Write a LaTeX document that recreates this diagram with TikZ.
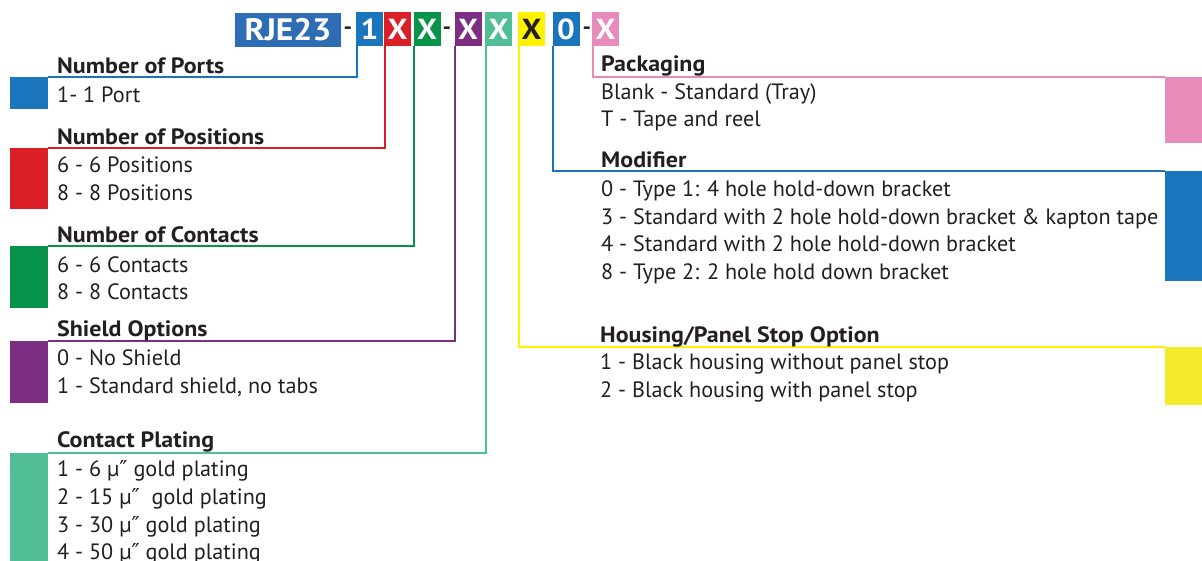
\documentclass[tikz,border=0pt]{standalone}
\usepackage{fontspec}
\setmainfont{PT Sans}[BoldFeatures={FakeStretch=1.08}]
\newfontfamily\symf{DejaVu Sans}
\newcommand{\dprime}{{\symf\fontsize{22}{24}\selectfont ″}}
\definecolor{tc}{HTML}{231F20}
\definecolor{cbrand}{HTML}{2E6DB4}
\definecolor{cblue}{HTML}{1B75BC}
\definecolor{cred}{HTML}{DA1F26}
\definecolor{cgreen}{HTML}{07934A}
\definecolor{cpurple}{HTML}{7B2E82}
\definecolor{cteal}{HTML}{52BE95}
\definecolor{cyellow}{HTML}{FFF200}
\definecolor{cyelsq}{HTML}{F6EB2A}
\definecolor{cpink}{HTML}{E68BBA}
\begin{document}
\begin{tikzpicture}[x=1pt,y=-1pt,
  txt/.style={anchor=base west,inner sep=0pt,font=\fontsize{22.2}{24}\selectfont,text=tc},
  head/.style={anchor=base west,inner sep=0pt,font=\fontsize{22.2}{24}\selectfont\bfseries,text=tc},
  hbox/.style={minimum width=27pt,minimum height=34pt,inner sep=0pt,font=\fontsize{29}{30}\selectfont\bfseries,text=white},
  dashtxt/.style={inner sep=0pt,font=\fontsize{22}{24}\selectfont\bfseries,text=tc},
  sq/.style={inner sep=0pt,minimum width=38pt,anchor=north west},
  conn/.style={line width=2pt}]
\useasboundingbox (0,0) rectangle (1202,561);
% header
\node[hbox,fill=cbrand,minimum width=106pt,font=\fontsize{31}{32}\selectfont\bfseries] (brand) at (288,30) {RJE23};
\node[dashtxt] (d1) at (348,31) {-};
\node[hbox,fill=cblue] (b1) at (369.5,29) {1};
\node[hbox,fill=cred] (b2) at (397.5,29) {X};
\node[hbox,fill=cgreen] (b3) at (427,29) {X};
\node[dashtxt] (d2) at (447,31) {-};
\node[hbox,fill=cpurple] (b4) at (468,29) {X};
\node[hbox,fill=cteal] (b5) at (498.5,29) {X};
\node[hbox,fill=cyellow,text=tc] (b6) at (531.5,29) {X};
\node[hbox,fill=cblue] (b7) at (566,29) {0};
\node[dashtxt] (d3) at (587,31) {-};
\node[hbox,fill=cpink] (b8) at (605.5,29) {X};
% squares
\node[sq,fill=cblue,minimum height=32pt] (sq1) at (10,77) {};
\node[sq,fill=cred,minimum height=61pt] (sq2) at (10,148) {};
\node[sq,fill=cgreen,minimum height=62pt] (sq3) at (10,246) {};
\node[sq,fill=cpurple,minimum height=62pt] (sq4) at (10,341) {};
\node[sq,fill=cteal,minimum height=120pt] (sq5) at (10,453) {};
\node[sq,fill=cpink,minimum height=66pt,minimum width=40pt] (sq8) at (1165,77) {};
\node[sq,fill=cblue,minimum height=110pt,minimum width=40pt] (sq7) at (1165,171) {};
\node[sq,fill=cyelsq,minimum height=58pt,minimum width=40pt] (sq6) at (1165,347) {};
% connectors
\draw[conn,cblue] ([xshift=1pt]b1.south west) |- (sq1.north east);
\draw[conn,cred] ([xshift=1pt]b2.south west) |- (sq2.north east);
\draw[conn,cgreen] ([xshift=1pt]b3.south west) |- (sq3.north east);
\draw[conn,cpurple] ([xshift=1pt]b4.south west) |- (sq4.north east);
\draw[conn,cteal] ([xshift=1pt]b5.south west) |- (sq5.north east);
\draw[conn,cyellow] ([xshift=1pt]b6.south west) |- (sq6.north west);
\draw[conn,cblue] ([xshift=1pt]b7.south west) |- (sq7.north west);
\draw[conn,cpink] ([xshift=1pt]b8.south west) |- (sq8.north west);
% left texts
\node[head] (h1) at (57,74) {Number of Ports};
\node[txt] (t11) at (57,103) {1- 1 Port};
\node[head] (h2) at (57,145) {Number of Positions};
\node[txt] (t21) at (57,173) {6 - 6 Positions};
\node[txt] (t22) at (57,201) {8 - 8 Positions};
\node[head] (h3) at (57,243) {Number of Contacts};
\node[txt] (t31) at (57,273) {6 - 6 Contacts};
\node[txt] (t32) at (57,300) {8 - 8 Contacts};
\node[head] (h4) at (57,336) {Shield Options};
\node[txt] (t41) at (57,365) {0 - No Shield};
\node[txt] (t42) at (57,393) {1 - Standard shield, no tabs};
\node[head] (h5) at (57,447) {Contact Plating};
\node[txt] (t51) at (57,476) {1 - 6 µ\dprime{} gold plating};
\node[txt] (t52) at (57,504) {2 - 15 µ\dprime{}~ gold plating};
\node[txt] (t53) at (57,532) {3 - 30 µ\dprime{} gold plating};
\node[txt] (t54) at (57,559) {4 - 50 µ\dprime{} gold plating};
% right texts
\node[head] (h8) at (601,72) {Packaging};
\node[txt] (t81) at (601,100) {Blank - Standard (Tray)};
\node[txt] (t82) at (601,127) {T - Tape and reel};
\node[head] (h7) at (601,168) {Modifier};
\node[txt] (t71) at (601,197) {0 - Type 1: 4 hole hold-down bracket};
\node[txt] (t72) at (601,225) {3 - Standard with 2 hole hold-down bracket \& kapton tape};
\node[txt] (t73) at (601,252) {4 - Standard with 2 hole hold-down bracket};
\node[txt] (t74) at (601,280) {8 - Type 2: 2 hole hold down bracket};
\node[head] (h6) at (600,342) {Housing/Panel Stop Option};
\node[txt] (t61) at (600,369) {1 - Black housing without panel stop};
\node[txt] (t62) at (600,397) {2 - Black housing with panel stop};
\end{tikzpicture}
\end{document}
